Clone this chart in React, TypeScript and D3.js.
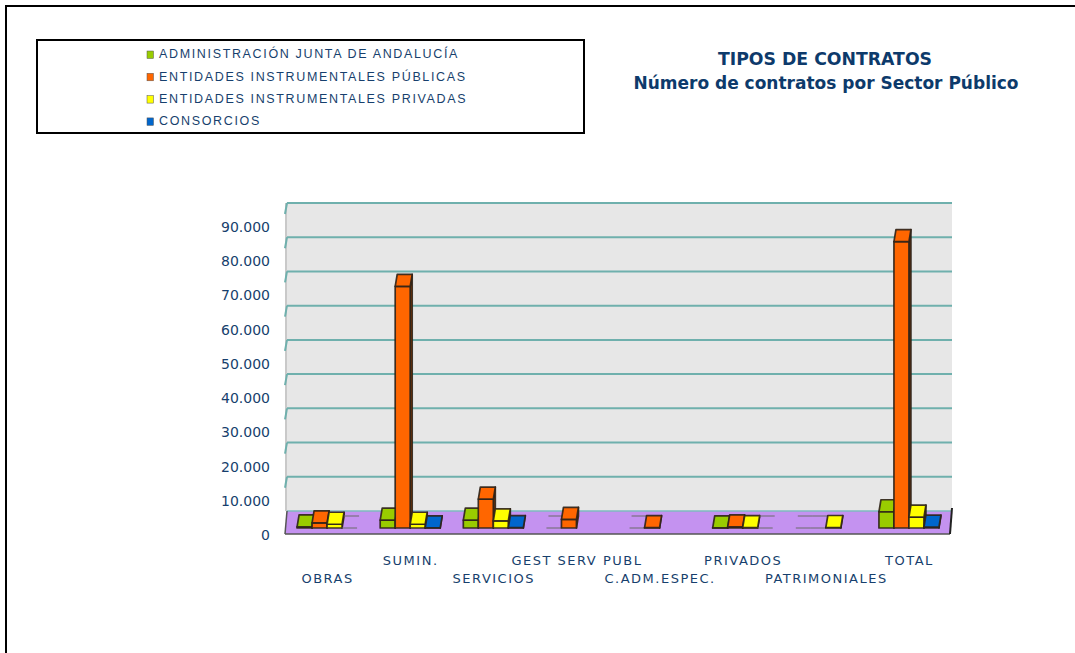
import React from "react";
import * as d3 from "d3";

const categories = [
  "OBRAS",
  "SUMIN.",
  "SERVICIOS",
  "GEST SERV PUBL",
  "C.ADM.ESPEC.",
  "PRIVADOS",
  "PATRIMONIALES",
  "TOTAL",
];
const seriesNames = [
  "ADMINISTRACIÓN JUNTA DE ANDALUCÍA",
  "ENTIDADES INSTRUMENTALES PÚBLICAS",
  "ENTIDADES INSTRUMENTALES PRIVADAS",
  "CONSORCIOS",
];
// null = no data (nothing drawn), 0 = flat outline
const administracion = [300, 2300, 2300, 0, 0, 60, 0, 4750];
const entPublicas = [1500, 70600, 8450, 2500, 100, 300, 0, 83700];
const entPrivadas = [1100, 1100, 2100, null, null, 100, 150, 3200];
const consorcios = [0, 60, 100, null, null, 0, null, 250];
const yTicks = [0, 10000, 20000, 30000, 40000, 50000, 60000, 70000, 80000, 90000];

const colors = ["#99cc00", "#ff6600", "#ffff00", "#0066cc"];
const navy = "#173f6d";

const fmt = d3
  .formatLocale({ decimal: ",", thousands: ".", grouping: [3], currency: ["", "€"] })
  .format(",");

const App = () => {
  const width = 1075;
  const height = 653;
  const wall = { left: 287, right: 952, top: 203, floor: 511, front: 534 };
  const depthY = 12; // bar depth (vertical)
  const depthX = 2;
  const barBase = 528;

  const yBack = d3.scaleLinear().domain([0, 90000]).range([wall.floor, wall.top]);
  const yBar = (v) => yBack(v) + (barBase - wall.floor);

  const x0 = d3.scaleBand().domain(categories).range([wall.left, wall.right]);
  const x1 = d3.scaleBand().domain(d3.range(4)).range([0, 60]);
  const groupStart = (c) => x0(c) + (x0.bandwidth() - 60) / 2 - 1.5;

  const series = [administracion, entPublicas, entPrivadas, consorcios];

  const renderBar = (v, c, si) => {
    if (v === null || v === undefined) return null;
    const x = groupStart(c) + x1(si);
    const w = x1.bandwidth();
    if (v === 0) {
      return (
        <g key={`${c}-${si}`} stroke="#6a6a6a" strokeWidth={1}>
          <line x1={x + depthX} x2={x + w + depthX} y1={barBase - depthY} y2={barBase - depthY} />
          <line x1={x} x2={x + w} y1={barBase} y2={barBase} />
        </g>
      );
    }
    const yf = yBar(v);
    const top = `${x},${yf} ${x + w},${yf} ${x + w + depthX},${yf - depthY} ${x + depthX},${yf - depthY}`;
    const side = `${x + w},${yf} ${x + w + depthX},${yf - depthY} ${x + w + depthX},${barBase - depthY} ${x + w},${barBase}`;
    return (
      <g key={`${c}-${si}`} stroke="#2e2218" strokeOpacity={0.9} strokeWidth={1.7} strokeLinejoin="round">
        <polygon points={side} fill={d3.color(colors[si]).darker(1.2)} />
        <rect x={x} y={yf} width={w} height={barBase - yf} fill={colors[si]} />
        <polygon points={top} fill={colors[si]} />
      </g>
    );
  };

  return (
    <svg
      width={width}
      height={height}
      style={{ position: "absolute", left: 0, top: 0, background: "#fff" }}
      fontFamily="'DejaVu Sans', Verdana, sans-serif"
    >
      {/* page frame */}
      <rect x={6} y={6} width={1200} height={800} fill="none" stroke="#000" strokeWidth={2} />

      {/* legend */}
      <rect x={37} y={40} width={547} height={93} fill="#fff" stroke="#000" strokeWidth={2} />
      {seriesNames.map((name, i) => (
        <g key={name} transform={`translate(147, ${55 + i * 22.3})`}>
          <rect x={0} y={-4} width={6.5} height={7.5} fill={colors[i]} stroke="#555" strokeWidth={0.5} />
          <text
            x={12}
            y={0}
            dominantBaseline="middle"
            fontFamily="'Liberation Sans', Arial, sans-serif"
            fontSize={12.5}
            letterSpacing={1.65}
            fill={navy}
          >
            {name}
          </text>
        </g>
      ))}

      {/* title */}
      <g fontFamily="Tahoma, 'DejaVu Sans', sans-serif" fontWeight="bold" fill="#0d3a6b" textAnchor="middle">
        <text x={825} y={65} fontSize={17.3}>TIPOS DE CONTRATOS</text>
        <text x={826} y={89} fontSize={17}>Número de contratos por Sector Público</text>
      </g>

      {/* back wall */}
      <rect x={wall.left} y={wall.top} width={wall.right - wall.left} height={wall.floor - wall.top} fill="#e7e7e7" />
      <line x1={wall.left - 1} x2={wall.left - 1} y1={wall.top} y2={wall.floor} stroke="#c9c9c9" strokeWidth={2} />
      {yTicks.filter((t) => t > 0).map((t) => (
        <g key={t} stroke="#6fb0ad" strokeWidth={2}>
          <line x1={wall.left} x2={wall.right} y1={yBack(t)} y2={yBack(t)} />
          <line x1={wall.left} x2={wall.left - 2} y1={yBack(t)} y2={yBack(t) + 11} />
        </g>
      ))}

      {/* floor */}
      <polygon
        points={`${wall.left},${wall.floor} ${wall.right},${wall.floor} ${wall.right - 2},${wall.front} ${wall.left - 2},${wall.front}`}
        fill="#c492f0"
      />
      <line x1={wall.left} x2={wall.right} y1={wall.floor} y2={wall.floor} stroke="#7fb8c0" strokeWidth={1.5} />
      <line x1={wall.left - 2} x2={wall.right - 2} y1={wall.front} y2={wall.front} stroke="#555" strokeWidth={1.5} />
      <line x1={wall.left} x2={wall.left - 2} y1={wall.floor} y2={wall.front} stroke="#555" strokeWidth={1.5} />
      <line x1={wall.right} x2={wall.right - 2} y1={wall.floor - 3} y2={wall.front} stroke="#222" strokeWidth={2} />

      {/* bars */}
      {categories.map((c, ci) => (
        <g key={c}>{series.map((s, si) => renderBar(s[ci], c, si))}</g>
      ))}

      {/* y axis labels */}
      {yTicks.map((t) => (
        <text
          key={t}
          x={270}
          y={yBack(t) + 25}
          textAnchor="end"
          dominantBaseline="middle"
          fontSize={14}
          fill={navy}
        >
          {fmt(t)}
        </text>
      ))}

      {/* x axis labels, staggered */}
      {categories.map((c, i) => (
        <text
          key={c}
          x={x0(c) + x0.bandwidth() / 2 - 1}
          y={i % 2 === 1 ? 561 : 579}
          textAnchor="middle"
          dominantBaseline="middle"
          fontSize={13}
          letterSpacing={1.5}
          fill={navy}
        >
          {c}
        </text>
      ))}
    </svg>
  );
};

export default App;
